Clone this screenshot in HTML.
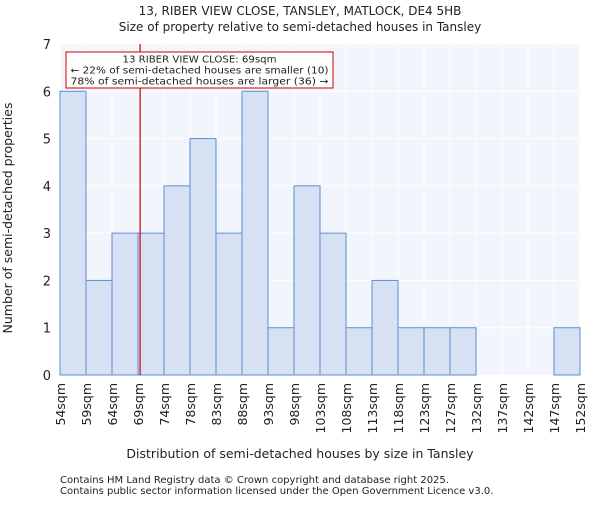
<!DOCTYPE html>
<html><head><meta charset="utf-8"><style>
body{margin:0;background:#fff;}
svg text{font-family:"DejaVu Sans","Liberation Sans",sans-serif;fill:#222;}
</style></head><body>
<svg width="600" height="500" xmlns="http://www.w3.org/2000/svg">
<text x="300" y="15" text-anchor="middle" font-size="12">13, RIBER VIEW CLOSE, TANSLEY, MATLOCK, DE4 5HB</text>
<text x="300" y="31" text-anchor="middle" font-size="12">Size of property relative to semi-detached houses in Tansley</text>
<rect x="60" y="44" width="520" height="331" fill="#f2f5fc"/>
<g id="grid"></g><g id="bars"></g><g id="axes"></g>
<text x="300" y="458" text-anchor="middle" font-size="12.5">Distribution of semi-detached houses by size in Tansley</text>
<text transform="translate(12,218) rotate(-90)" text-anchor="middle" font-size="12.5">Number of semi-detached properties</text>
<text x="60" y="483" font-size="10" fill="#444">Contains HM Land Registry data © Crown copyright and database right 2025.</text>
<text x="60" y="494" font-size="10" fill="#444">Contains public sector information licensed under the Open Government Licence v3.0.</text>
</svg>
<script>
const categories=["54sqm","59sqm","64sqm","69sqm","74sqm","78sqm","83sqm","88sqm","93sqm","98sqm","103sqm","108sqm","113sqm","118sqm","123sqm","127sqm","132sqm","137sqm","142sqm","147sqm","152sqm"];
const counts=[6,2,3,3,4,5,3,6,1,4,3,1,2,1,1,1,0,0,0,1];
const yTicks=[0,1,2,3,4,5,6,7];
const markerBin=3.08;
const NS="http://www.w3.org/2000/svg";
const X0=60,X1=580,Y0=375,YT=44,YMAX=7;
const bw=(X1-X0)/counts.length;
const xs=i=>X0+i*bw, ys=v=>Y0-(Y0-YT)*v/YMAX;
function mk(p,tag,a){const e=document.createElementNS(NS,tag);for(const k in a)e.setAttribute(k,a[k]);document.getElementById(p).appendChild(e);return e;}
yTicks.forEach(v=>{const l=mk('grid','line',{x1:X0,x2:X1,y1:ys(v),y2:ys(v),stroke:'#fff','stroke-width':1});


const t=mk('axes','text',{x:X0-9,y:ys(v)+5,'text-anchor':'end','font-size':13});t.textContent=v;

});
categories.forEach((c,i)=>{const l=mk('grid','line',{x1:xs(i),x2:xs(i),y1:YT,y2:Y0,stroke:'#fff','stroke-width':1});


const t=mk('axes','text',{transform:`translate(${xs(i)+5},${Y0+8}) rotate(-90)`,'text-anchor':'end','font-size':12.5});t.textContent=c;

});
counts.forEach((v,i)=>{if(v<=0)return;const r=mk('bars','rect',{x:xs(i),y:ys(v),width:bw,height:Y0-ys(v),fill:'#d6e2f3',stroke:'#5b8fd6','stroke-width':1});

});
const mx=xs(markerBin);
const ml=mk('axes','line',{x1:mx,x2:mx,y1:YT,y2:Y0,stroke:'#cc0000','stroke-width':1.2});


const box=mk('axes','rect',{x:66,y:52,width:267,height:36,fill:'#fff',stroke:'#cc0000','stroke-width':1});


["13 RIBER VIEW CLOSE: 69sqm","← 22% of semi-detached houses are smaller (10)","78% of semi-detached houses are larger (36) →"].forEach((s,k)=>{const t=mk('axes','text',{x:199.5,y:62.5+k*11,'text-anchor':'middle','font-size':9.6,textLength:k?258:154,lengthAdjust:'spacingAndGlyphs'});t.textContent=s;

});
</script>
</body></html>
